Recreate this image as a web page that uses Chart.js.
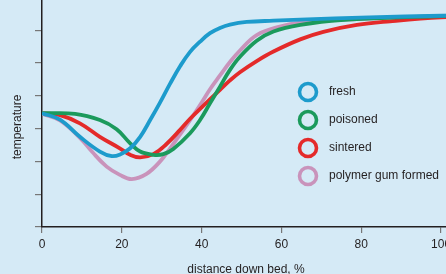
<!DOCTYPE html>
<html>
<head>
<meta charset="utf-8">
<script src="https://cdn.jsdelivr.net/npm/chart.js@4.4.1/dist/chart.umd.min.js"></script>
<style>
  html, body { margin: 0; padding: 0; background: #d5eaf6; overflow: hidden; }
  #wrap { width: 446px; height: 274px; overflow: hidden; }
</style>
</head>
<body>
<div id="wrap"><canvas id="chart" width="481" height="274"></canvas></div>
<script>
// --- DATOS ---
const seriesNames = ['fresh', 'poisoned', 'sintered', 'polymer gum formed'];
const seriesColors = ['#1d9bcc', '#1b9a5c', '#e42a2a', '#c993bb'];

const xTicks = [0, 20, 40, 60, 80, 100];
const yTicks = [0, 1, 2, 3, 4, 5, 6];

const freshX = [0, 4.5, 9.5, 14.5, 17.5, 19.7, 22.1, 24.6, 27.1, 29.6, 32.1, 34.6, 37.1, 39.6, 42.1, 44.6, 47.1, 51.3, 58, 64.7, 82, 100, 110];
const freshY = [3.47, 3.27, 2.75, 2.30, 2.16, 2.22, 2.40, 2.75, 3.26, 3.80, 4.37, 4.90, 5.34, 5.65, 5.91, 6.07, 6.17, 6.25, 6.29, 6.32, 6.39, 6.44, 6.46];

const poisonedX = [0, 8.3, 14.5, 18.7, 22.1, 24.6, 27.9, 30.4, 32.9, 37.1, 39.6, 42.1, 44.6, 47.1, 49.6, 53.8, 58, 64.7, 74.9, 100, 110];
const poisonedY = [3.47, 3.45, 3.26, 2.98, 2.55, 2.30, 2.20, 2.22, 2.38, 2.86, 3.26, 3.77, 4.28, 4.79, 5.19, 5.68, 5.96, 6.16, 6.31, 6.43, 6.45];

const sinteredX = [0, 4.5, 9.5, 14.5, 19.5, 22.1, 24.6, 27.9, 31.2, 34.6, 37.1, 41.3, 44.6, 47.1, 49.6, 53.8, 58, 64.7, 70.5, 78.9, 87.2, 100, 110];
const sinteredY = [3.47, 3.41, 3.16, 2.75, 2.40, 2.20, 2.12, 2.22, 2.53, 2.96, 3.30, 3.80, 4.18, 4.47, 4.72, 5.06, 5.35, 5.72, 5.95, 6.16, 6.27, 6.39, 6.42];

const gumX = [0, 4.5, 9.5, 12.5, 16.2, 19.5, 22.5, 26.2, 29.6, 32.1, 37.1, 40.4, 42.1, 44.6, 47.1, 49.6, 53.8, 59.6, 64.7, 78.9, 100, 110];
const gumY = [3.45, 3.25, 2.72, 2.30, 1.84, 1.59, 1.46, 1.62, 2.00, 2.40, 3.26, 3.87, 4.20, 4.62, 5.03, 5.38, 5.85, 6.11, 6.23, 6.34, 6.43, 6.45];

function puntos(xs, ys) {
    return xs.map((x, i) => ({ x: x, y: ys[i] }));
}

const allX = [freshX, poisonedX, sinteredX, gumX];
const allY = [freshY, poisonedY, sinteredY, gumY];
const fuente = '12px "Liberation Sans", Arial, sans-serif';

// --- LEYENDA Y TITULOS ---
const customDraw = {
    id: 'customDraw',
    afterDraw(chart) {
        const ctx = chart.ctx;
        ctx.save();
        // leyenda con anillos
        chart.data.datasets.forEach((ds, i) => {
            const cy = 92 + i * 28;
            ctx.beginPath();
            ctx.arc(308, cy, 8.5, 0, Math.PI * 2);
            ctx.lineWidth = 3.6;
            ctx.strokeStyle = ds.borderColor;
            ctx.stroke();
            ctx.fillStyle = '#231f20';
            ctx.font = fuente;
            ctx.textAlign = 'left';
            ctx.textBaseline = 'middle';
            ctx.fillText(ds.label, 329, cy);
        });
        // titulos de ejes
        ctx.fillStyle = '#231f20';
        ctx.font = fuente;
        ctx.textAlign = 'center';
        ctx.textBaseline = 'middle';
        ctx.fillText('distance down bed, %', 246, 270);
        ctx.translate(18, 127);
        ctx.rotate(-Math.PI / 2);
        ctx.fillText('temperature', 0, 0);
        ctx.restore();
    }
};

new Chart(document.getElementById('chart'), {
    type: 'line',
    data: {
        datasets: seriesNames.map((name, i) => ({
            label: name,
            data: puntos(allX[i], allY[i]),
            borderColor: seriesColors[i],
            backgroundColor: seriesColors[i],
            borderWidth: 3.8,
            pointRadius: 0,
            tension: 0.4,
            fill: false
        }))
    },
    options: {
        responsive: false,
        animation: false,
        layout: { padding: 0 },
        plugins: { legend: { display: false }, tooltip: { enabled: false } },
        scales: {
            x: {
                type: 'linear',
                min: 0,
                max: 110,
                afterBuildTicks: (scale) => {
                    scale.ticks = xTicks.map(v => ({ value: v }));
                },
                afterFit: (scale) => {
                    scale.height = 47;
                    scale.paddingLeft = 0;
                    scale.paddingRight = 0;
                },
                grid: { drawOnChartArea: false, drawTicks: true, tickLength: 6, color: '#777', lineWidth: 1.2 },
                border: { color: '#231f20', width: 1.5 },
                ticks: {
                    color: '#231f20',
                    padding: 4,
                    maxRotation: 0,
                    autoSkip: false,
                    font: { size: 12, family: '"Liberation Sans", Arial, sans-serif' }
                }
            },
            y: {
                type: 'linear',
                min: 0,
                max: 6.92,
                afterBuildTicks: (scale) => {
                    scale.ticks = yTicks.map(v => ({ value: v }));
                },
                afterFit: (scale) => {
                    scale.width = 42;
                    scale.paddingTop = 0;
                    scale.paddingBottom = 0;
                },
                grid: { drawOnChartArea: false, drawTicks: true, tickLength: 7, color: '#777', lineWidth: 1.2 },
                border: { color: '#231f20', width: 1.5 },
                ticks: { display: false }
            }
        }
    },
    plugins: [customDraw]
});
</script>
</body>
</html>
